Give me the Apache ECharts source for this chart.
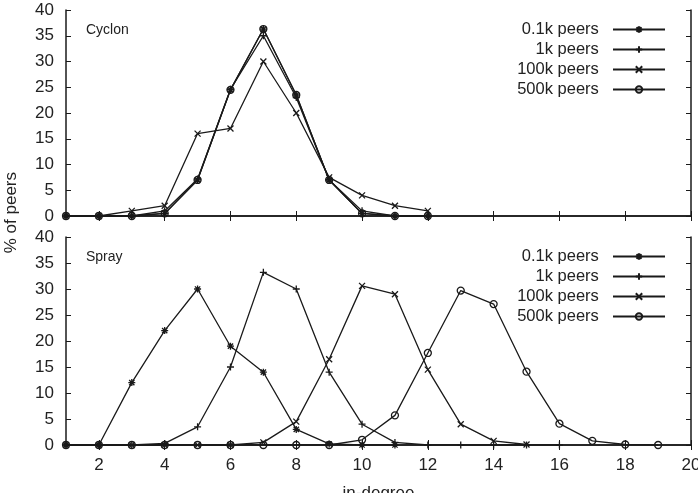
<!DOCTYPE html>
<html lang="en">
<head>
    <meta charset="UTF-8">
    <title>in-degree</title>
    <style>
        body { margin: 0; background: #fff; }
    </style>
</head>
<body>
<div id="chart" style="width: 698px; height: 493px"></div>
<script src="https://cdn.jsdelivr.net/npm/echarts@6/dist/echarts.min.js"></script>
<script>
    // in-degree values 1..19
    var degrees = [1,2,3,4,5,6,7,8,9,10,11,12,13,14,15,16,17,18,19];
    var xTicks = [2,4,6,8,10,12,14,16,18,20];
    var names = ['0.1k peers','1k peers','100k peers','500k peers'];

    // Cyclon (% of peers)
    var cyclon01k  = [0,0,0,0.5,7,24.5,36.3,23.5,7,0.5,0,0];
    var cyclon1k   = [0,0,0,1,7.2,24.6,35,23,7,1,0,0];
    var cyclon100k = [0,0,1,2,16,17,30,20,7.5,4,2,1];
    var cyclon500k = [0,0,0,0.5,7,24.5,36.3,23.5,7,0.5,0,0];

    // Spray (% of peers)
    var spray01k  = [0,0,12,22,30,19,14,3,0.2,0,0];
    var spray1k   = [0,0,0,0.3,3.5,15,33.2,30,14,4,0.5,0,0,0,0,0];
    var spray100k = [0,0,0,0,0,0,0.5,4.5,16.5,30.6,29,14.5,4,0.8,0.1];
    var spray500k = [0,0,0,0,0,0,0,0,0,1,5.7,17.7,29.7,27.1,14.1,4.1,0.8,0.1,0];

    var symbols = [
        'path://M0,4L8,4M4,0L4,8M1,1L7,7M7,1L1,7',
        'path://M0,4L8,4M4,0L4,8',
        'path://M1,1L7,7M7,1L1,7',
        'path://M8,4A4,4,0,1,1,0,4A4,4,0,1,1,8,4Z'
    ];
    var symbolSizes = [7, 7, 6, 7];
    var ink = '#1a1a1a';
    var font = 'Liberation Sans';

    function pairs(vals) {
        var out = [];
        for (var i = 0; i < vals.length; i++) out.push([degrees[i], vals[i]]);
        return out;
    }

    function mkSeries(idx, vals, panel) {
        return {
            name: names[idx],
            type: 'line',
            xAxisIndex: panel * 2,
            yAxisIndex: panel * 2,
            data: pairs(vals),
            symbol: symbols[idx],
            symbolSize: symbolSizes[idx],
            showSymbol: true,
            animation: false,
            lineStyle: { color: ink, width: 1.3 },
            itemStyle: { color: 'transparent', borderColor: ink, borderWidth: 1.3 },
            emphasis: { disabled: true }
        };
    }

    function xAx(grid, pos, labels) {
        return {
            type: 'value', gridIndex: grid, position: pos, min: 1, max: 20,
            axisLine: { show: true, lineStyle: { color: ink, width: 1.5 } },
            axisTick: { show: true, inside: true, length: 5, customValues: xTicks, lineStyle: { color: ink } },
            axisLabel: { show: labels, customValues: xTicks, color: '#222', fontSize: 17, fontFamily: font, margin: 12 },
            splitLine: { show: false }
        };
    }

    function yAx(grid, pos, labels) {
        return {
            type: 'value', gridIndex: grid, position: pos, min: 0, max: 40, interval: 5,
            axisLine: { show: true, lineStyle: { color: ink, width: 1.5 } },
            axisTick: { show: true, inside: true, length: 5, lineStyle: { color: ink } },
            axisLabel: { show: labels, color: '#222', fontSize: 17, fontFamily: font, margin: 12 },
            splitLine: { show: false }
        };
    }

    function mkLegend(top) {
        return {
            orient: 'vertical', right: 27, top: top, align: 'right',
            itemWidth: 52, itemHeight: 8, itemGap: 3,
            data: names,
            formatter: function (n) { return n + '  '; },
            textStyle: { fontSize: 16.5, fontFamily: font, color: '#222' },
            selectedMode: false
        };
    }

    var chart = echarts.init(document.getElementById('chart'));
    var option = {
        backgroundColor: '#fff',
        animation: false,
        title: [
            { text: 'Cyclon', left: 81, top: 18, textStyle: { fontSize: 14, fontWeight: 'normal', fontFamily: font, color: '#222' } },
            { text: 'Spray', left: 81, top: 245, textStyle: { fontSize: 14, fontWeight: 'normal', fontFamily: font, color: '#222' } }
        ],
        legend: [mkLegend(16), mkLegend(243)],
        grid: [
            { left: 66, width: 625, top: 10, height: 206, outerBoundsMode: 'none' },
            { left: 66, width: 625, top: 237, height: 208, outerBoundsMode: 'none' }
        ],
        xAxis: [
            xAx(0, 'bottom', false), xAx(0, 'top', false),
            Object.assign(xAx(1, 'bottom', true), { name: 'in-degree', nameLocation: 'middle', nameGap: 40, nameTextStyle: { fontSize: 17, fontFamily: font, color: '#222' } }),
            xAx(1, 'top', false)
        ],
        yAxis: [
            yAx(0, 'left', true), yAx(0, 'right', false),
            yAx(1, 'left', true), yAx(1, 'right', false)
        ],
        graphic: [{
            type: 'text', left: 3, top: 172, rotation: Math.PI / 2,
            style: { text: '% of peers', fontSize: 17, fontFamily: font, fill: '#222' }
        }],
        series: [
            mkSeries(0, cyclon01k, 0), mkSeries(1, cyclon1k, 0), mkSeries(2, cyclon100k, 0), mkSeries(3, cyclon500k, 0),
            mkSeries(0, spray01k, 1), mkSeries(1, spray1k, 1), mkSeries(2, spray100k, 1), mkSeries(3, spray500k, 1)
        ]
    };
    chart.setOption(option);
</script>
</body>
</html>
